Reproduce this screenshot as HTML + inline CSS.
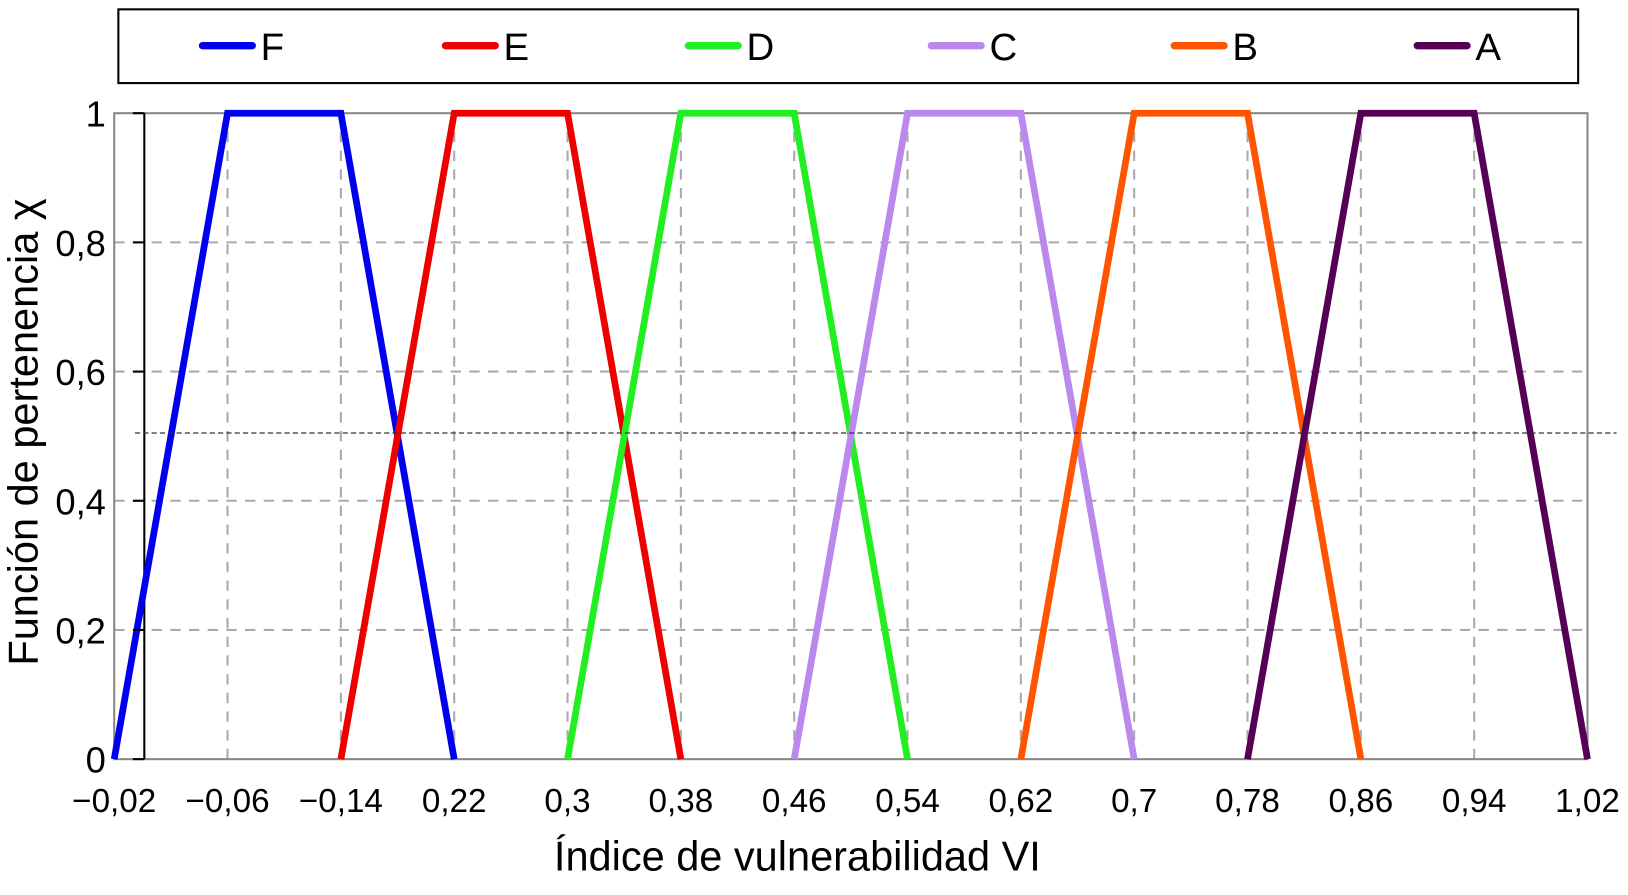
<!DOCTYPE html>
<html><head><meta charset="utf-8"><style>
body{margin:0;background:#fff}
svg text{font-family:"Liberation Sans",sans-serif;fill:#000}
</style></head><body>
<svg width="1628" height="890" viewBox="0 0 1568 857" preserveAspectRatio="none" xmlns="http://www.w3.org/2000/svg" id="chart">
<rect x="114" y="9" width="1406" height="71" fill="#fff" stroke="#000" stroke-width="2"/>
<g id="grid"></g>
<rect x="110" y="109" width="1419" height="622" fill="none" stroke="#888" stroke-width="2"/>
<line x1="139" y1="109" x2="139" y2="731" stroke="#000" stroke-width="2"/>
<g id="series"></g>
<line x1="130" y1="417" x2="1557" y2="417" stroke="#333" stroke-width="1.2" stroke-dasharray="5,3"/>
<g id="legend"></g>
<g id="ticks"></g>
<text x="768" y="838" font-size="40" text-anchor="middle">Índice de vulnerabilidad VI</text>
<text transform="translate(36,416) rotate(-90)" font-size="40" text-anchor="middle">Función de pertenencia χ</text>
</svg>
<script>
const xLabels=["−0,02","−0,06","−0,14","0,22","0,3","0,38","0,46","0,54","0,62","0,7","0,78","0,86","0,94","1,02"];
const yTicks=[0,0.2,0.4,0.6,0.8,1];
const yLabels=["0","0,2","0,4","0,6","0,8","1"];
const seriesNames=["F","E","D","C","B","A"];
const seriesColors=["#0000ee","#ee0000","#22ee22","#bb88ee","#ff5500","#550055"];
const seriesX=[[0,1,2,3],[2,3,4,5],[4,5,6,7],[6,7,8,9],[8,9,10,11],[10,11,12,13]];
const seriesY=[[0,1,1,0],[0,1,1,0],[0,1,1,0],[0,1,1,0],[0,1,1,0],[0,1,1,0]];
const NS="http://www.w3.org/2000/svg";
const X=i=>110+i*(1419/13);
const Y=v=>731-v*622;
function mk(t,a,p){const e=document.createElementNS(NS,t);for(const k in a)e.setAttribute(k,a[k]);p.appendChild(e);return e;}
const grid=document.getElementById('grid'),ticks=document.getElementById('ticks');
xLabels.forEach((l,i)=>{
 if(i>0&&i<13){const g=mk('line',{x1:X(i),x2:X(i),y1:109,y2:731,stroke:'#aaa','stroke-width':2,'stroke-dasharray':'10,8'},grid);
 
 }
 const t=mk('text',{x:X(i),y:782,'font-size':32,'text-anchor':'middle'},ticks);t.textContent=l;
 
 
});
yTicks.forEach((v,i)=>{
 if(v>0&&v<1){const g=mk('line',{x1:110,x2:1529,y1:Y(v),y2:Y(v),stroke:'#aaa','stroke-width':2,'stroke-dasharray':'10,8'},grid);
 
 }
 const tk=mk('line',{x1:128,x2:139,y1:Y(v),y2:Y(v),stroke:'#000','stroke-width':2},ticks);
 
 
 const t=mk('text',{x:102,y:Y(v)+13,'font-size':35,'text-anchor':'end'},ticks);t.textContent=yLabels[i];
 
 
});
const sg=document.getElementById('series'),lg=document.getElementById('legend');
seriesNames.forEach((n,s)=>{
 const pts=seriesX[s].map((x,j)=>X(x)+','+Y(seriesY[s][j])).join(' ');
 const p=mk('polyline',{points:pts,fill:'none',stroke:seriesColors[s],'stroke-width':6.5,'stroke-linejoin':'miter'},sg);
 
 
 const lx=195+s*234;
 const l=mk('line',{x1:lx,x2:lx+48,y1:44,y2:44,stroke:seriesColors[s],'stroke-width':7,'stroke-linecap':'round'},lg);
 
 
 const t=mk('text',{x:lx+56,y:58,'font-size':37},lg);t.textContent=n;
 
 
});
</script>
</body></html>
